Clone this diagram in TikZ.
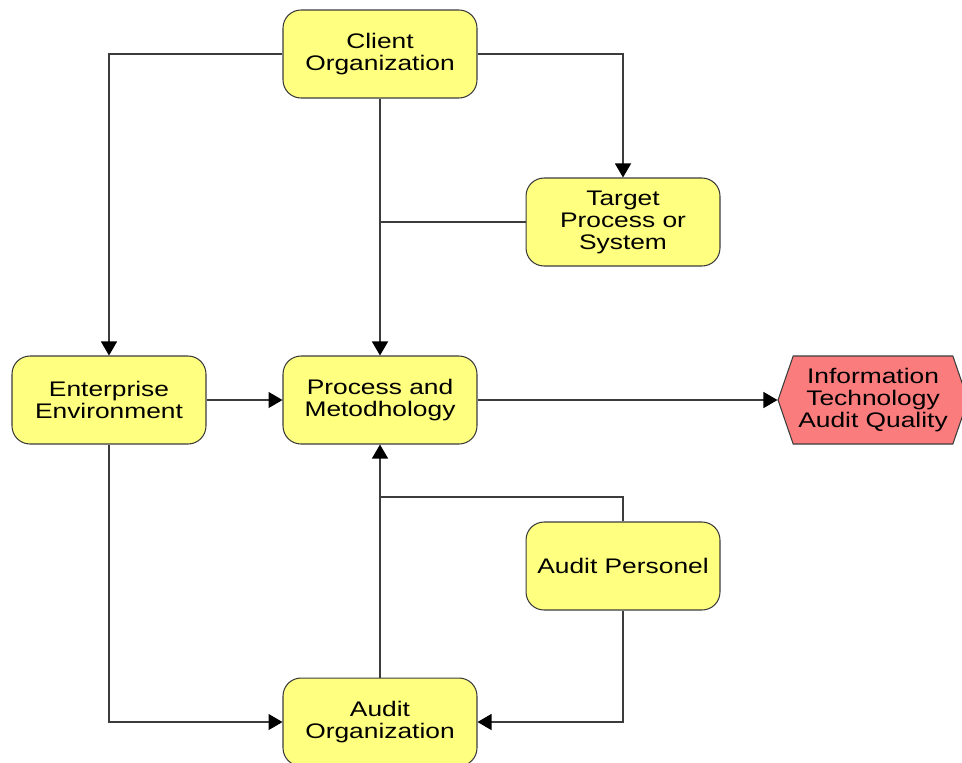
\documentclass[tikz,border=0pt]{standalone}
\usepackage{fontspec}
\setmainfont{Liberation Sans}[FakeStretch=1.25]
\usepackage{tikz}
\usetikzlibrary{positioning, calc, arrows.meta, shapes.symbols}
\definecolor{BoxYellow}{RGB}{255,255,128}
\definecolor{QualRed}{RGB}{250,124,124}
\definecolor{EdgeGray}{RGB}{60,60,60}
\tikzset{
    boxnode/.style={
        draw=EdgeGray, fill=BoxYellow, rounded corners=0.36cm, line width=0.6pt,
        minimum width=3.88cm, minimum height=1.76cm, align=center,
        font=\fontsize{12}{12.5}\selectfont, inner sep=2pt
    },
    hexnode/.style={
        draw=EdgeGray, fill=QualRed, signal, signal to=west and east,
        signal pointer angle=142, line width=0.6pt,
        minimum width=3.8cm, minimum height=1.76cm, align=center,
        font=\fontsize{12}{12.5}\selectfont, inner sep=1pt
    },
    conn/.style={
        -{Triangle[length=0.28cm,width=0.32cm,color=black,fill=black]},
        draw=EdgeGray, line width=0.65pt
    },
    plain/.style={
        draw=EdgeGray, line width=0.65pt
    }
}

\begin{document}
\begin{tikzpicture}[x=0.02cm, y=-0.02cm]
    \useasboundingbox (0,0) rectangle (962,762);
    \node[boxnode] (client) at (380,54) {Client\\Organization};
    \node[boxnode] (target) at (623,222) {Target\\Process or\\System};
    \node[boxnode] (env) at (109,400) {Enterprise\\Environment};
    \node[boxnode] (proc) at (380,400) {Process and\\Metodhology};
    \node[hexnode] (itaq) at (873,400) {Information\\Technology\\Audit Quality};
    \node[boxnode] (pers) at (623,566) {Audit Personel};
    \node[boxnode] (audorg) at (380,722) {Audit\\Organization};
    \coordinate (join) at (380,497);

    \draw[conn] (client.west) -| (env.north);
    \draw[conn] (client.east) -| (target.north);
    \draw[conn] (client.south) -- (proc.north);
    \draw[plain] (target.west) -- (target.west -| proc.north);
    \draw[conn] (env.east) -- (proc.west);
    \draw[conn] (proc.east) -- (itaq.west);
    \draw[conn] (env.south) |- (audorg.west);
    \draw[plain] (pers.north) |- (join);
    \draw[conn] (audorg.north) -- (proc.south);
    \draw[conn] (pers.south) |- (audorg.east);
\end{tikzpicture}
\end{document}
